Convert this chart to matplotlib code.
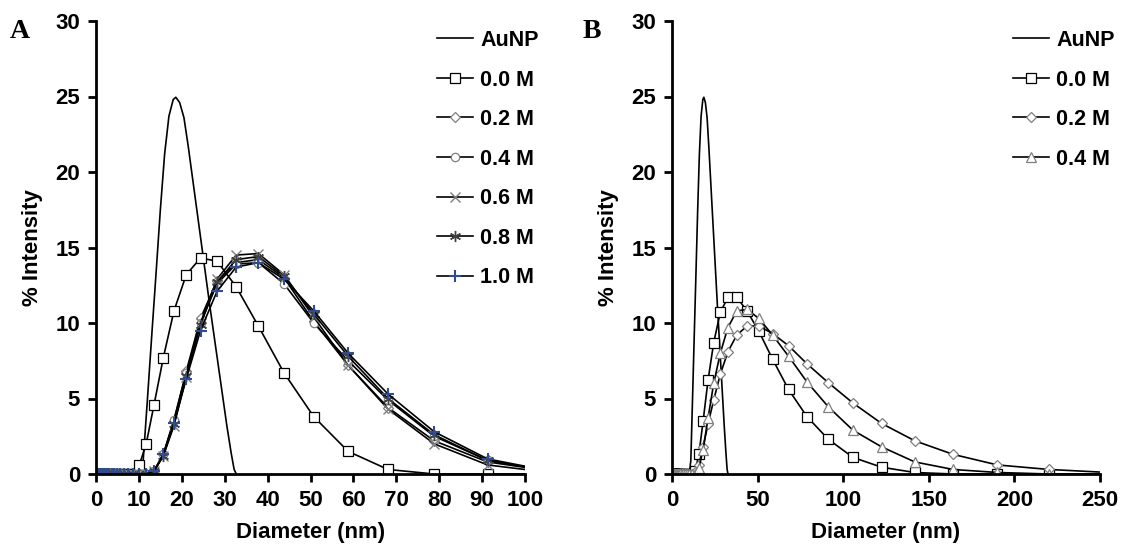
import numpy as np
import matplotlib.pyplot as plt

plt.rcParams['font.family'] = ['Liberation Sans', 'DejaVu Sans']
plt.rcParams['font.weight'] = 'bold'

# Size bins (nm) of the instrument
bins = [0.4, 0.4632, 0.5365, 0.6213, 0.7195, 0.8332, 0.9649, 1.117, 1.294, 1.499,
        1.736, 2.01, 2.328, 2.696, 3.122, 3.615, 4.187, 4.849, 5.615, 6.503,
        7.531, 8.721, 10.1, 11.7, 13.54, 15.69, 18.17, 21.04, 24.36, 28.21,
        32.67, 37.84, 43.82, 50.75, 58.77, 68.06, 78.82, 91.28, 105.7, 122.4,
        141.8, 164.2, 190.1, 220.2, 255.0]
n_zero = 22  # bins 0.4 ... 8.721 are empty for every sample

# AuNP curve (no markers)
aunp_d = [10.1, 11.0, 12.0, 13.0, 14.0, 15.0, 16.0, 17.0, 18.0, 18.6, 19.5, 20.5,
          21.5, 22.5, 23.5, 24.5, 25.5, 26.5, 27.5, 28.5, 29.5, 30.5, 31.5, 32.2, 32.7]
aunp_v = [0.0, 0.9, 5.0, 9.2, 13.3, 17.5, 21.2, 23.7, 24.8, 24.95, 24.6, 23.6,
          21.7, 19.6, 17.5, 15.4, 13.3, 11.2, 9.2, 7.2, 5.2, 3.2, 1.4, 0.3, 0.0]

# Panel A, values from 10.1 nm to 105.7 nm
a_00 = [0.6, 2.0, 4.6, 7.7, 10.8, 13.2, 14.3, 14.1, 12.4, 9.8, 6.7, 3.8, 1.5, 0.3, 0.0, 0.0, 0.0]
a_02 = [0.0, 0.0, 0.2, 1.3, 3.5, 6.8, 10.3, 12.8, 14.0, 14.2, 13.0, 10.1, 7.2, 4.4, 2.2, 0.8, 0.2]
a_04 = [0.0, 0.0, 0.2, 1.3, 3.6, 6.7, 10.0, 12.6, 13.9, 14.0, 12.6, 10.0, 7.5, 4.9, 2.5, 0.9, 0.2]
a_06 = [0.0, 0.0, 0.2, 1.2, 3.2, 6.4, 10.0, 12.9, 14.5, 14.6, 13.2, 10.4, 7.2, 4.3, 2.0, 0.6, 0.1]
a_08 = [0.0, 0.0, 0.2, 1.2, 3.3, 6.5, 9.9, 12.7, 14.2, 14.4, 13.1, 10.6, 7.8, 5.0, 2.6, 0.9, 0.2]
a_10 = [0.0, 0.0, 0.2, 1.3, 3.4, 6.3, 9.5, 12.1, 13.7, 14.0, 12.9, 10.8, 8.0, 5.3, 2.8, 1.0, 0.2]

# Panel B, values from 10.1 nm to 255 nm
b_00 = [0.0, 0.0, 0.2, 1.3, 3.5, 6.2, 8.7, 10.7, 11.7, 11.7, 10.8, 9.45, 7.6, 5.6, 3.8,
        2.3, 1.1, 0.45, 0.1, 0.0, 0.0, 0.0, 0.0]
b_02 = [0.0, 0.0, 0.1, 0.6, 1.8, 3.3, 4.9, 6.6, 8.1, 9.2, 9.8, 9.8, 9.3, 8.5, 7.3,
        6.05, 4.7, 3.35, 2.2, 1.3, 0.6, 0.3, 0.1]
b_04 = [0.0, 0.0, 0.0, 0.4, 1.6, 3.7, 6.0, 8.0, 9.7, 10.8, 10.9, 10.3, 9.2, 7.8, 6.1,
        4.45, 2.9, 1.8, 0.8, 0.3, 0.1, 0.0, 0.0]

blue = '#2F4C8C'
grey = '#7F7F7F'
styles = {
    '0.0 M': dict(marker='s', ms=6.5, mfc='white', mec='black', mew=0.9),
    '0.2 M': dict(marker='D', ms=5, mfc='white', mec=grey, mew=0.9),
    '0.4 M': dict(marker='o', ms=6, mfc='white', mec=grey, mew=0.9),
    '0.6 M': dict(marker='x', ms=7, mec=grey, mew=1.0),
    '0.8 M': dict(marker=(6, 2, 0), ms=8, mec='#404040', mew=1.0),
    '1.0 M': dict(marker='+', ms=8, mec=blue, mew=1.5),
    '0.4 M B': dict(marker='^', ms=7, mfc='white', mec=grey, mew=0.9),
}

W, H = 1123, 548
fig = plt.figure(figsize=(W / 100, H / 100), dpi=100)
y_top, y_bot = 21, 474
axA = fig.add_axes([96 / W, 1 - y_bot / H, 429 / W, (y_bot - y_top) / H])
axB = fig.add_axes([672 / W, 1 - y_bot / H, 428 / W, (y_bot - y_top) / H])


def full(vals):
    n = len(vals)
    return bins[:n_zero + n], [0.0] * n_zero + list(vals)


def draw(ax, series):
    ax.plot(aunp_d, aunp_v, color='black', lw=1.2, label='AuNP')
    for name, vals, st in series:
        x, y = full(vals)
        ax.plot(x, y, color='black', lw=1.2, label=name, **st)


draw(axA, [('0.0 M', a_00, styles['0.0 M']), ('0.2 M', a_02, styles['0.2 M']),
           ('0.4 M', a_04, styles['0.4 M']), ('0.6 M', a_06, styles['0.6 M']),
           ('0.8 M', a_08, styles['0.8 M']), ('1.0 M', a_10, styles['1.0 M'])])
draw(axB, [('0.0 M', b_00, styles['0.0 M']), ('0.2 M', b_02, styles['0.2 M']),
           ('0.4 M', b_04, styles['0.4 M B'])])

for ax, xmax, step in [(axA, 100, 10), (axB, 250, 50)]:
    ax.set_xlim(0, xmax)
    ax.set_ylim(0, 30)
    ax.set_xticks(np.arange(0, xmax + 1, step))
    ax.set_yticks(np.arange(0, 31, 5))
    for s in ['top', 'right']:
        ax.spines[s].set_visible(False)
    for s in ['left', 'bottom']:
        ax.spines[s].set_linewidth(2.0)
    ax.tick_params(direction='out', length=5.5, width=2.0, labelsize=16, pad=6)
    for lab in ax.get_xticklabels() + ax.get_yticklabels():
        lab.set_fontweight('bold')
    ax.set_xlabel('Diameter (nm)', fontsize=16, fontweight='bold', labelpad=8)
    ax.set_ylabel('% Intensity', fontsize=16, fontweight='bold', labelpad=9)

leg_kw = dict(loc='upper left', bbox_transform=fig.transFigure, frameon=False,
              handlelength=1.67, handletextpad=0.33, labelspacing=0.86,
              borderpad=0, borderaxespad=0, numpoints=1,
              prop={'weight': 'bold', 'size': 15.5})
axA.legend(bbox_to_anchor=(437 / W, 1 - 30 / H), **leg_kw)
axB.legend(bbox_to_anchor=(1013 / W, 1 - 30 / H), **leg_kw)

serif = ['Liberation Serif', 'DejaVu Serif']
fig.text(10 / W, 1 - 38 / H, 'A', fontsize=20, fontweight='bold', family=serif)
fig.text(583 / W, 1 - 38 / H, 'B', fontsize=20, fontweight='bold', family=serif)

fig.savefig('out.png', dpi=100)
